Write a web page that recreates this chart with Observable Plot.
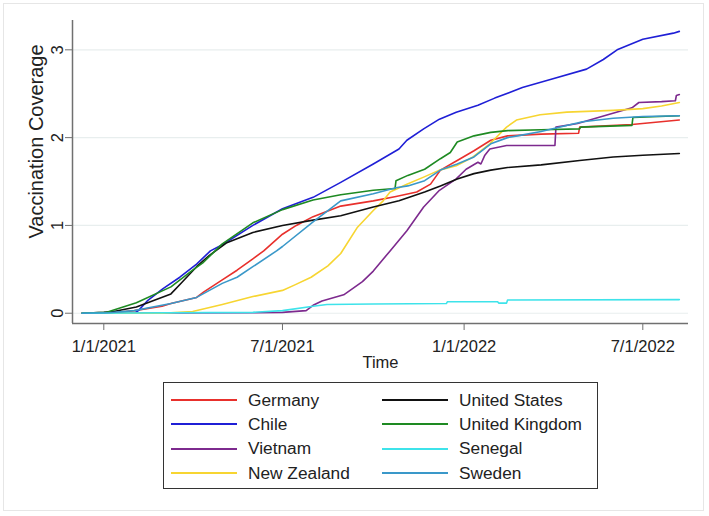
<!DOCTYPE html>
<html><head><meta charset="utf-8">
<script src="https://cdn.jsdelivr.net/npm/d3@7"></script>
<script src="https://cdn.jsdelivr.net/npm/@observablehq/plot@0.6"></script>
<style>
body{margin:0;background:#fff;font-family:"Liberation Sans",Arial,sans-serif;}
#wrap{position:relative;width:709px;height:516px;overflow:hidden;background:#fff;}
#border{position:absolute;left:3px;top:3px;width:701px;height:508px;border:1px solid #e6e6e6;box-sizing:border-box;pointer-events:none;z-index:5;}
#chart{position:absolute;left:0;top:0;}
#legend{position:absolute;left:163px;top:382px;width:435px;height:107px;border:1px solid #333;box-sizing:border-box;
  padding:5px 0 0 7px;display:grid;grid-auto-flow:column;grid-template-columns:211px 1fr;grid-template-rows:repeat(4,24.3px);
  font-size:17.3px;color:#222;}
.item{display:flex;align-items:center;white-space:nowrap;}
.sw{width:66px;height:2px;margin-right:11px;}
</style></head>
<body>
<div id="wrap"><div id="chart"></div><div id="legend"></div><div id="border"></div></div>
<script>
const countries = ["Germany","Chile","Vietnam","New Zealand","United States","United Kingdom","Senegal","Sweden"];
const colors = ["#e8302c","#1f1fd6","#7d2a8e","#f7d531","#111111","#1e8a22","#3ee3ea","#3a98c9"];
const xTicks = ["2021-01-01","2021-07-01","2022-01-01","2022-07-01"];
const yTicks = [0,1,2,3];

const germany = [["2020-12-10",0],["2020-12-27",0],["2021-01-15",0.01],["2021-02-01",0.03],["2021-03-01",0.08],["2021-03-10",0.11],["2021-04-05",0.18],["2021-04-12",0.24],["2021-05-01",0.38],["2021-05-16",0.49],["2021-06-01",0.62],["2021-06-12",0.71],["2021-07-01",0.90],["2021-07-15",1.00],["2021-08-01",1.10],["2021-08-29",1.22],["2021-10-01",1.28],["2021-10-24",1.33],["2021-11-14",1.38],["2021-11-28",1.47],["2021-12-08",1.63],["2021-12-25",1.74],["2022-01-11",1.85],["2022-01-28",1.97],["2022-02-14",2.02],["2022-03-20",2.04],["2022-04-27",2.05],["2022-04-28",2.12],["2022-06-20",2.15],["2022-08-07",2.20]];
const chile = [["2020-12-10",0],["2021-02-01",0],["2021-02-05",0.03],["2021-02-14",0.14],["2021-03-02",0.28],["2021-03-19",0.41],["2021-04-05",0.56],["2021-04-19",0.71],["2021-05-01",0.78],["2021-06-01",1.00],["2021-07-01",1.19],["2021-08-01",1.32],["2021-08-29",1.49],["2021-10-01",1.70],["2021-10-27",1.87],["2021-11-04",1.97],["2021-11-21",2.10],["2021-12-07",2.21],["2021-12-24",2.29],["2022-01-15",2.37],["2022-02-01",2.45],["2022-03-01",2.57],["2022-04-01",2.67],["2022-05-05",2.78],["2022-05-22",2.89],["2022-06-05",3.00],["2022-07-01",3.12],["2022-08-01",3.19],["2022-08-07",3.21]];
const vietnam = [["2020-12-10",0],["2021-06-01",0.005],["2021-07-01",0.01],["2021-07-25",0.03],["2021-08-01",0.09],["2021-08-10",0.14],["2021-09-01",0.21],["2021-09-10",0.28],["2021-09-20",0.36],["2021-10-01",0.48],["2021-10-18",0.71],["2021-11-04",0.94],["2021-11-21",1.21],["2021-12-07",1.40],["2021-12-24",1.53],["2022-01-03",1.64],["2022-01-15",1.72],["2022-01-18",1.70],["2022-01-22",1.80],["2022-01-27",1.87],["2022-02-13",1.91],["2022-04-03",1.91],["2022-04-04",2.12],["2022-04-26",2.16],["2022-05-23",2.25],["2022-06-20",2.34],["2022-06-27",2.40],["2022-07-20",2.41],["2022-08-03",2.42],["2022-08-04",2.48],["2022-08-07",2.49]];
const newZealand = [["2020-12-10",0],["2021-03-01",0],["2021-04-01",0.02],["2021-05-01",0.10],["2021-06-01",0.19],["2021-07-01",0.26],["2021-07-13",0.32],["2021-07-30",0.41],["2021-08-16",0.54],["2021-08-29",0.68],["2021-09-15",0.98],["2021-10-01",1.17],["2021-10-11",1.28],["2021-10-18",1.38],["2021-11-04",1.47],["2021-11-21",1.55],["2021-12-07",1.63],["2021-12-24",1.68],["2022-01-10",1.78],["2022-01-27",1.93],["2022-02-13",2.12],["2022-02-23",2.20],["2022-03-19",2.26],["2022-04-15",2.29],["2022-06-01",2.31],["2022-07-01",2.33],["2022-07-20",2.36],["2022-08-07",2.40]];
const unitedStates = [["2020-12-10",0],["2021-01-01",0.01],["2021-01-11",0.02],["2021-02-03",0.07],["2021-03-10",0.22],["2021-03-21",0.35],["2021-04-05",0.53],["2021-04-18",0.66],["2021-05-05",0.80],["2021-06-01",0.92],["2021-07-01",1.00],["2021-08-01",1.06],["2021-08-29",1.11],["2021-10-01",1.21],["2021-10-27",1.28],["2021-11-22",1.38],["2021-12-08",1.45],["2021-12-25",1.53],["2022-01-11",1.59],["2022-01-28",1.63],["2022-02-14",1.66],["2022-03-20",1.69],["2022-04-28",1.74],["2022-06-01",1.78],["2022-07-01",1.80],["2022-08-07",1.82]];
const unitedKingdom = [["2020-12-10",0],["2021-01-04",0.01],["2021-01-15",0.05],["2021-02-03",0.12],["2021-03-10",0.30],["2021-04-01",0.49],["2021-04-12",0.58],["2021-05-01",0.79],["2021-06-01",1.03],["2021-07-01",1.18],["2021-08-01",1.29],["2021-08-29",1.35],["2021-10-01",1.40],["2021-10-23",1.42],["2021-10-24",1.51],["2021-11-05",1.57],["2021-11-22",1.64],["2021-12-08",1.76],["2021-12-18",1.83],["2021-12-25",1.95],["2022-01-11",2.02],["2022-01-28",2.06],["2022-02-14",2.08],["2022-03-20",2.09],["2022-04-28",2.10],["2022-04-29",2.12],["2022-06-20",2.14],["2022-06-21",2.23],["2022-08-07",2.25]];
const senegal = [["2020-12-10",0],["2021-06-01",0.01],["2021-07-01",0.03],["2021-08-01",0.08],["2021-08-15",0.10],["2021-10-01",0.105],["2021-12-14",0.11],["2021-12-15",0.13],["2022-02-04",0.13],["2022-02-05",0.115],["2022-02-13",0.115],["2022-02-14",0.15],["2022-08-07",0.155]];
const sweden = [["2020-12-10",0],["2021-01-06",0.005],["2021-02-01",0.03],["2021-03-10",0.11],["2021-04-05",0.18],["2021-05-01",0.34],["2021-05-16",0.41],["2021-06-01",0.53],["2021-06-25",0.71],["2021-07-01",0.76],["2021-08-01",1.04],["2021-08-29",1.28],["2021-10-01",1.36],["2021-10-24",1.43],["2021-11-05",1.45],["2021-11-22",1.51],["2021-12-08",1.63],["2021-12-25",1.70],["2022-01-11",1.78],["2022-01-28",1.93],["2022-02-14",2.00],["2022-02-24",2.02],["2022-03-20",2.07],["2022-04-04",2.11],["2022-05-01",2.18],["2022-06-01",2.22],["2022-07-01",2.24],["2022-08-07",2.25]];

const seriesList = [germany, chile, vietnam, newZealand, unitedStates, unitedKingdom, senegal, sweden];
const data = seriesList.flatMap((s, i) => s.map(([d, v]) => ({country: countries[i], date: new Date(d + "T00:00:00Z"), value: v})));

const xDomain = [new Date("2020-11-30T07:00:00Z"), new Date("2022-08-16T07:00:00Z")];
const yDomain = [-0.117, 3.334];
const axisColor = "#707070";
const textColor = "#222";
const fmt = d => `${d.getUTCMonth() + 1}/${d.getUTCDate()}/${d.getUTCFullYear()}`;

const chart = Plot.plot({
  width: 709, height: 370,
  marginLeft: 72, marginRight: 21, marginTop: 20, marginBottom: 47,
  x: {type: "utc", domain: xDomain},
  y: {domain: yDomain},
  color: {domain: countries, range: colors},
  style: {fontFamily: '"Liberation Sans", Arial, sans-serif', background: "transparent", color: textColor},
  marks: [
    Plot.ruleY(yTicks, {stroke: "#e8eeee", strokeWidth: 1.2}),
    Plot.ruleX([xDomain[0]], {stroke: axisColor, strokeWidth: 1.5}),
    Plot.ruleY([yDomain[0]], {stroke: axisColor, strokeWidth: 1.5}),
    Plot.axisX({ticks: xTicks.map(d => new Date(d + "T00:00:00Z")), tickFormat: fmt, tickSize: 7, tickPadding: 10, stroke: axisColor, fill: textColor, fontSize: 16.5, label: null}),
    Plot.axisY({ticks: yTicks, tickSize: 7, tickFormat: () => "", stroke: axisColor, label: null}),
    Plot.text(yTicks, {y: d => d, text: d => String(d), frameAnchor: "left", dx: -10, rotate: -90, lineAnchor: "bottom", textAnchor: "middle", fontSize: 16.5, fill: textColor}),
    Plot.text(["Vaccination Coverage"], {text: d => d, frameAnchor: "left", dx: -29.7, dy: -30.5, rotate: -90, lineAnchor: "bottom", textAnchor: "middle", fontSize: 20, fill: textColor}),
    Plot.text(["Time"], {text: d => d, frameAnchor: "bottom", dy: 39.7, lineAnchor: "middle", fontSize: 16.5, fill: textColor}),
    Plot.line(data, {x: "date", y: "value", stroke: "country", z: "country", strokeWidth: 1.6})
  ]
});
document.getElementById("chart").appendChild(chart);

const legend = document.getElementById("legend");
countries.forEach((c, i) => {
  const item = document.createElement("div");
  item.className = "item";
  const sw = document.createElement("span");
  sw.className = "sw";
  sw.style.background = colors[i];
  const t = document.createElement("span");
  t.textContent = c;
  item.appendChild(sw); item.appendChild(t);
  legend.appendChild(item);
});
</script>
</body></html>
